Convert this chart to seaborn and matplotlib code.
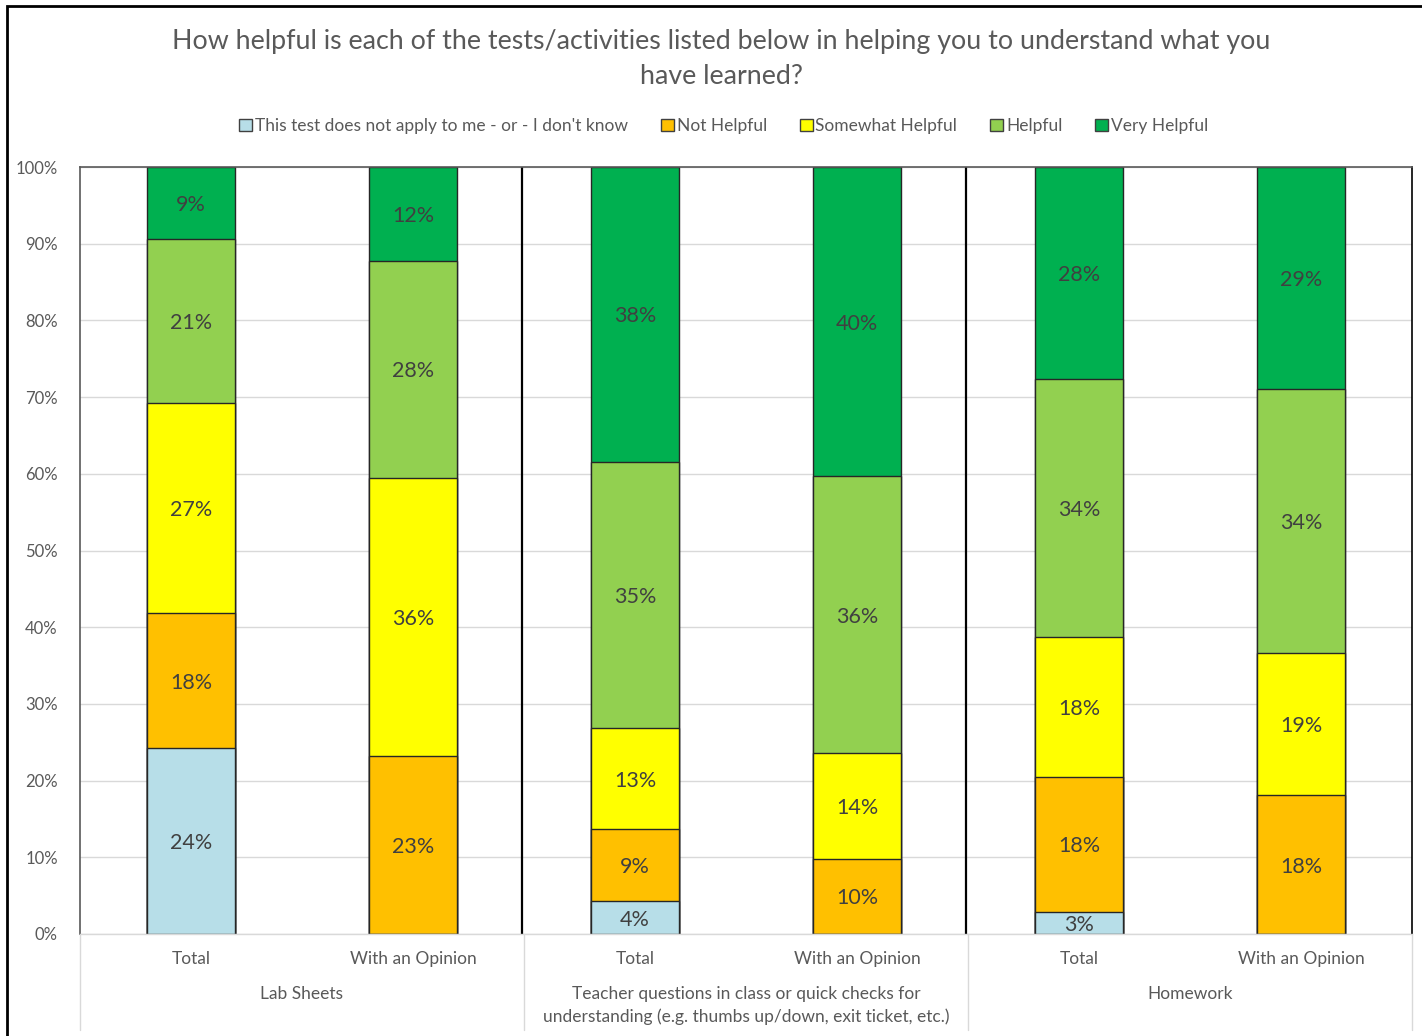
import matplotlib
matplotlib.use("Agg")
import matplotlib.pyplot as plt
import matplotlib.patches as mpatches
import matplotlib.transforms as mtransforms
from matplotlib.lines import Line2D
import pandas as pd
import seaborn as sns

# data (percent)
bar_labels = ["Total", "With an Opinion", "Total", "With an Opinion", "Total", "With an Opinion"]
groups = ["Lab Sheets",
          "Teacher questions in class or quick checks for\nunderstanding (e.g. thumbs up/down, exit ticket, etc.)",
          "Homework"]
series = ["This test does not apply to me - or - I don't know", "Not Helpful",
          "Somewhat Helpful", "Helpful", "Very Helpful"]
not_apply = [24.2, 0, 4.3, 0, 2.9, 0]
not_helpful = [17.6, 23.2, 9.4, 9.8, 17.6, 18.1]
somewhat = [27.4, 36.3, 13.1, 13.8, 18.2, 18.6]
helpful = [21.4, 28.2, 34.8, 36.1, 33.6, 34.4]
very = [9.4, 12.3, 38.4, 40.3, 27.7, 28.9]
colors = ["#B7DEE8", "#FFC000", "#FFFF00", "#92D050", "#00B050"]

sns.set_theme(style="white")
plt.rcParams['font.family'] = ['Lato', 'DejaVu Sans']
txt = "#595959"

fig = plt.figure(figsize=(14.22, 10.36), dpi=100)
ax = fig.add_axes([80 / 1422, 1 - 934 / 1036, 1332 / 1422, 767 / 1036])

vals = [not_apply, not_helpful, somewhat, helpful, very]
pos = list(range(len(bar_labels)))
df = pd.DataFrame({"pos": pos})
cum = [0] * len(pos)
cums = []
for v in vals:
    cum = [c + x for c, x in zip(cum, v)]
    cums.append(cum)

# draw cumulative bars from the top down so they stack
for i in range(len(vals) - 1, -1, -1):
    df["y"] = cums[i]
    sns.barplot(data=df, x="pos", y="y", color=colors[i], saturation=1, width=0.4,
                edgecolor="#262626", linewidth=1, ax=ax, zorder=2)

for i, v in enumerate(vals):
    for p in pos:
        if v[p] > 0:
            ax.text(p, cums[i][p] - v[p] / 2, f"{v[p]:.0f}%", ha="center", va="center_baseline",
                    fontsize=15.5, color="#404040", zorder=3)

ax.set_xlim(-0.5, 5.5)
ax.set_ylim(0, 100)
ax.set_yticks(range(0, 101, 10))
ax.set_yticklabels([f"{t}%" for t in range(0, 101, 10)], fontsize=12, color=txt)
ax.yaxis.grid(True, color="#d9d9d9", linewidth=1, zorder=0)
ax.set_axisbelow(True)
ax.set_xticks(pos)
ax.set_xticklabels(bar_labels, fontsize=12.5, color=txt)
ax.tick_params(axis="x", length=0, pad=12)
ax.tick_params(axis="y", length=0, pad=16)
ax.set_xlabel("")
ax.set_ylabel("")

ax.spines["top"].set_color("#595959")
ax.spines["left"].set_color("#595959")
ax.spines["right"].set_color("#000000")
ax.spines["bottom"].set_color("#d9d9d9")
for s in ax.spines.values():
    s.set_linewidth(1.2)
ax.spines["bottom"].set_linewidth(1)

for xv in [1.5, 3.5]:
    ax.axvline(xv - 0.01, color="#000000", linewidth=1.6, zorder=1)

trans = mtransforms.blended_transform_factory(ax.transData, ax.transAxes)
for xv in [-0.5, 1.5, 3.5, 5.5]:
    ax.add_line(Line2D([xv, xv], [0, -96 / 767], transform=trans,
                       color="#d9d9d9", linewidth=1, clip_on=False))
for gi, g in enumerate(groups):
    ax.text(gi * 2 + 0.5, -52 / 767, g, transform=trans, ha="center", va="top",
            fontsize=12.5, color=txt, linespacing=1.45)

fig.text(0.507, 1 - 59 / 1036,
         "How helpful is each of the tests/activities listed below in helping you to understand what you\nhave learned?",
         ha="center", va="center", fontsize=19.3, color=txt, linespacing=1.5)

handles = [mpatches.Patch(facecolor=c, edgecolor="#404040", linewidth=1) for c in colors]
fig.legend(handles, series, loc="center", bbox_to_anchor=(0.509, 1 - 126 / 1036), ncol=5,
           frameon=False, fontsize=12.5, labelcolor=txt, handlelength=0.75, handleheight=0.75,
           handletextpad=0.15, columnspacing=1.9)

fig.add_artist(mpatches.Rectangle((7 / 1422, -0.02), 1.1, 1 - 6 / 1036 + 0.02,
                                  transform=fig.transFigure, fill=False,
                                  edgecolor="black", linewidth=2))

plt.savefig("out.png", dpi=100)
